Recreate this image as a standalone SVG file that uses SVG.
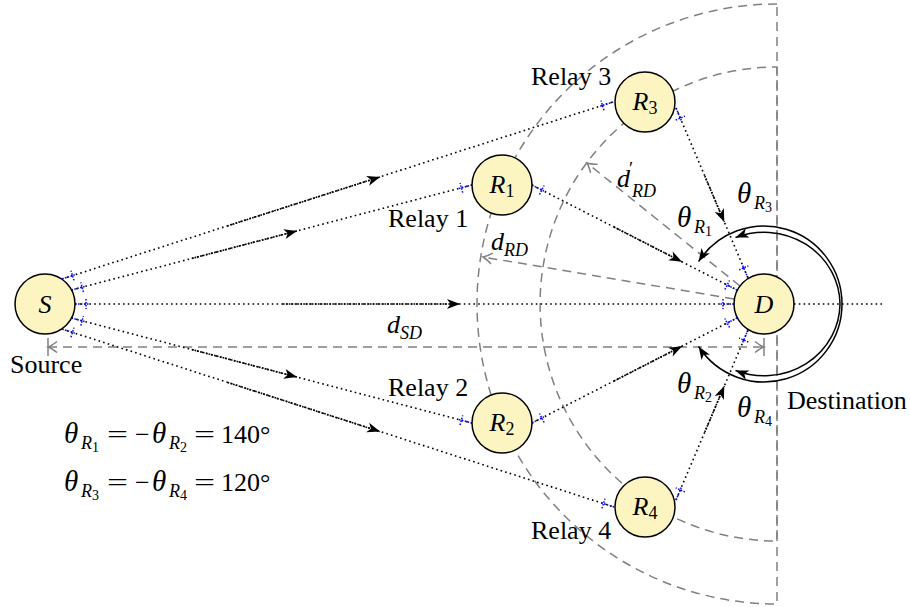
<svg xmlns="http://www.w3.org/2000/svg" width="910" height="607" viewBox="0 0 910 607" font-family="'Liberation Serif','Times New Roman',serif">
<style>
text{font-family:"Liberation Serif","Times New Roman",serif;font-size:26px;fill:#000}
.i{font-style:italic}
.th{font-style:italic;font-size:29px}
.sub{font-size:18px}
.dg{font-size:14px}
.gd{fill:none;stroke:#808080;stroke-width:1.5;stroke-dasharray:9 6;stroke-linejoin:round}
.dot{fill:none;stroke:#000;stroke-width:1.6;stroke-dasharray:1.6 3.2}
.dense{fill:none;stroke:#000;stroke-width:1.6;stroke-dasharray:1.6 1.3;marker-end:url(#stealth)}
.ant{fill:none;stroke:#0000ff;stroke-width:1.5;stroke-dasharray:1.5 1.5}
.ang{fill:none;stroke:#000;stroke-width:1.5;marker-end:url(#stealth)}
.node{fill:#fcf5c1;stroke:#000;stroke-width:1.5}
</style>
<defs>
<marker id="stealth" viewBox="-14 -7 16 14" markerWidth="16" markerHeight="14" refX="0" refY="0" orient="auto" markerUnits="userSpaceOnUse"><path d="M0,0 L-13,-5 L-9.5,0 L-13,5 Z" fill="#000"/></marker>
<marker id="gto" viewBox="-12 -8 14 16" markerWidth="14" markerHeight="16" refX="0" refY="0" orient="auto-start-reverse" markerUnits="userSpaceOnUse"><path d="M-9,-5.5 Q-3,-1 0,0 Q-3,1 -9,5.5" fill="none" stroke="#808080" stroke-width="1.5"/></marker>
</defs>

<g id="range-arcs">
<path class="gd" d="M777,4 A300,300 0 0 0 777,604 Z"/>
<path class="gd" d="M777,67 A237,237 0 0 0 777,541 Z" style="stroke-dashoffset:4"/>
</g>

<g id="connectors">
<line class="gd" x1="48" y1="347" x2="764" y2="347" marker-start="url(#gto)" marker-end="url(#gto)"/>
<line x1="48" y1="338" x2="48" y2="356" stroke="#808080" stroke-width="1.5"/>
<line x1="764" y1="338" x2="764" y2="356" stroke="#808080" stroke-width="1.5"/>
<line class="gd" x1="734" y1="299" x2="483" y2="257" marker-end="url(#gto)"/>
<line class="gd" x1="740" y1="286" x2="587" y2="163" marker-end="url(#gto)"/>

<line class="dot" x1="62" y1="279" x2="613" y2="102"/>
<line class="dense" x1="227.3" y1="225.9" x2="380" y2="176.9"/>
<line class="dot" x1="71.5" y1="290" x2="472" y2="185"/>
<line class="dense" x1="191.7" y1="258.5" x2="297" y2="230.9"/>
<line class="dot" x1="75" y1="304" x2="734" y2="304"/>
<line class="dense" x1="283" y1="304" x2="460" y2="304"/>
<line class="dot" x1="794" y1="304" x2="882" y2="304"/>
<line class="dot" x1="71.5" y1="318" x2="472" y2="423"/>
<line class="dense" x1="191.7" y1="349.5" x2="297" y2="377.1"/>
<line class="dot" x1="62" y1="329" x2="614" y2="507"/>
<line class="dense" x1="227.6" y1="382.4" x2="380" y2="431.6"/>

<line class="dot" x1="532" y1="185" x2="737" y2="290"/>
<line class="dense" x1="614" y1="227" x2="682" y2="261.8"/>
<line class="dot" x1="676" y1="108" x2="748" y2="278"/>
<line class="dense" x1="704.8" y1="176" x2="724.3" y2="222"/>
<line class="dot" x1="532" y1="423" x2="737" y2="318"/>
<line class="dense" x1="614" y1="381" x2="682" y2="346.2"/>
<line class="dot" x1="676" y1="500" x2="748" y2="330"/>
<line class="dense" x1="704.8" y1="432" x2="724.3" y2="386"/>

<path class="ang" d="M842,304 A78,78 0 0 0 698.6,261.5"/>
<path class="ang" d="M840,304 A76,72.5 0 0 0 735.5,237.5"/>
<path class="ang" d="M842,304 A78,78 0 0 1 698.6,346.5"/>
<path class="ang" d="M840,304 A76,72.5 0 0 1 735.5,370.5"/>

<path class="ant" d="M62,279 L75.3,274.7 M74,280.4 L71,270.8"/>
<path class="ant" d="M613,102 L599.7,106.3 M604,110.2 L601,100.6"/>
<path class="ant" d="M71.5,290 L85,286.4 M83.4,292 L80.8,282.4"/>
<path class="ant" d="M472,185 L458.5,188.6 M462.7,192.6 L460.1,183"/>
<path class="ant" d="M75,304 L89,304 M86,299 L86,309"/>
<path class="ant" d="M734,304 L720,304 M723,299 L723,309"/>
<path class="ant" d="M71.5,318 L85,321.6 M80.8,325.6 L83.4,316"/>
<path class="ant" d="M472,423 L458.5,419.4 M460.1,425 L462.7,415.4"/>
<path class="ant" d="M62,329 L75.3,333.3 M71,337.2 L74,327.6"/>
<path class="ant" d="M614,507 L600.7,502.7 M602,508.4 L605,498.8"/>
<path class="ant" d="M532,185 L544.5,191.4 M539.5,194.5 L544.1,185.5"/>
<path class="ant" d="M737,290 L724.5,283.6 M724.9,289.5 L729.5,280.5"/>
<path class="ant" d="M676,108 L681.5,120.9 M675.7,120.1 L684.9,116.1"/>
<path class="ant" d="M748,278 L742.5,265.1 M739.1,269.9 L748.3,265.9"/>
<path class="ant" d="M532,423 L544.5,416.6 M544.1,422.5 L539.5,413.5"/>
<path class="ant" d="M737,318 L724.5,324.4 M729.5,327.5 L724.9,318.5"/>
<path class="ant" d="M676,500 L681.5,487.1 M684.9,491.9 L675.7,487.9"/>
<path class="ant" d="M748,330 L742.5,342.9 M748.3,342.1 L739.1,338.1"/>
</g>

<g id="node-S">
<circle class="node" cx="45" cy="304" r="30"/>
<text x="45" y="313" class="i" text-anchor="middle">S</text>
<text x="10" y="373">Source</text>
</g>
<g id="node-D">
<circle class="node" cx="764" cy="304" r="30"/>
<text x="764" y="313" class="i" text-anchor="middle">D</text>
<text x="787" y="409">Destination</text>
</g>
<g id="node-R1">
<circle class="node" cx="502" cy="185" r="30"/>
<text x="502" y="193" text-anchor="middle"><tspan class="i">R</tspan><tspan class="sub" dy="4">1</tspan></text>
<text x="388" y="227">Relay 1</text>
</g>
<g id="node-R2">
<circle class="node" cx="502" cy="423" r="30"/>
<text x="502" y="431" text-anchor="middle"><tspan class="i">R</tspan><tspan class="sub" dy="4">2</tspan></text>
<text x="388" y="396">Relay 2</text>
</g>
<g id="node-R3">
<circle class="node" cx="645" cy="102" r="30"/>
<text x="645" y="110" text-anchor="middle"><tspan class="i">R</tspan><tspan class="sub" dy="4">3</tspan></text>
<text x="531" y="85">Relay 3</text>
</g>
<g id="node-R4">
<circle class="node" cx="645" cy="507" r="30"/>
<text x="645" y="515" text-anchor="middle"><tspan class="i">R</tspan><tspan class="sub" dy="4">4</tspan></text>
<text x="531" y="539">Relay 4</text>
</g>

<g id="labels">
<text x="387" y="333"><tspan class="i">d</tspan><tspan class="i sub" dy="6">SD</tspan></text>
<text x="491" y="250"><tspan class="i">d</tspan><tspan class="i sub" dy="6">RD</tspan></text>
<text x="617" y="187"><tspan class="i">d</tspan><tspan style="font-size:19px" x="629" dy="-12">′</tspan><tspan class="i sub" x="632" dy="22">RD</tspan></text>

<text x="737" y="203"><tspan class="th">θ</tspan><tspan class="i sub" x="754" dy="6">R</tspan><tspan class="dg" dy="3">3</tspan></text>
<text x="677" y="227"><tspan class="th">θ</tspan><tspan class="i sub" x="694" dy="6">R</tspan><tspan class="dg" dy="3">1</tspan></text>
<text x="677" y="393"><tspan class="th">θ</tspan><tspan class="i sub" x="694" dy="6">R</tspan><tspan class="dg" dy="3">2</tspan></text>
<text x="737" y="417"><tspan class="th">θ</tspan><tspan class="i sub" x="754" dy="6">R</tspan><tspan class="dg" dy="3">4</tspan></text>

<text x="64" y="443"><tspan class="th">θ</tspan><tspan class="i sub" x="81" dy="6">R</tspan><tspan class="dg" dy="3">1</tspan></text>
<text x="107" y="443" textLength="21" lengthAdjust="spacingAndGlyphs">=</text>
<text x="135" y="443">−</text>
<text x="152" y="443"><tspan class="th">θ</tspan><tspan class="i sub" x="169" dy="6">R</tspan><tspan class="dg" dy="3">2</tspan></text>
<text x="194" y="443" textLength="21" lengthAdjust="spacingAndGlyphs">=</text>
<text x="221" y="443">140°</text>

<text x="64" y="491"><tspan class="th">θ</tspan><tspan class="i sub" x="81" dy="6">R</tspan><tspan class="dg" dy="3">3</tspan></text>
<text x="107" y="491" textLength="21" lengthAdjust="spacingAndGlyphs">=</text>
<text x="135" y="491">−</text>
<text x="152" y="491"><tspan class="th">θ</tspan><tspan class="i sub" x="169" dy="6">R</tspan><tspan class="dg" dy="3">4</tspan></text>
<text x="194" y="491" textLength="21" lengthAdjust="spacingAndGlyphs">=</text>
<text x="221" y="491">120°</text>
</g>
</svg>
